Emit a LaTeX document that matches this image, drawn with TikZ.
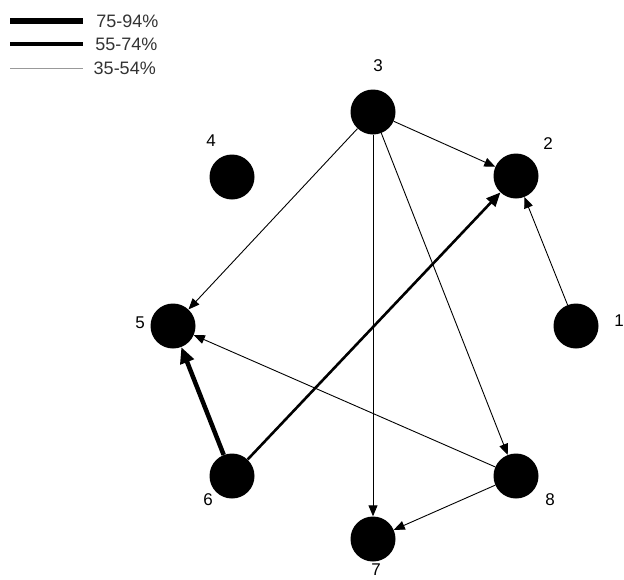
\documentclass[tikz,border=0pt]{standalone}
\usepackage{fontspec}
\setmainfont{Liberation Sans}
\usetikzlibrary{arrows.meta}

\begin{document}
\begin{tikzpicture}[x=1pt, y=-1pt,
    vertex/.style={circle, fill=black, inner sep=0pt, minimum width=44pt, minimum height=45pt},
    tag/.style={font=\fontsize{17}{19}\selectfont},
    weak/.style={line width=0.9pt, -{Triangle[length=11pt, width=9pt]}},
    medium/.style={line width=2.6pt, -{Triangle[length=14pt, width=12pt]}},
    strong/.style={line width=4.5pt, -{Triangle[length=16pt, width=14pt]}}]
          \useasboundingbox (0, 0) rectangle (624, 579);
          % legend
          \coordinate (l1a) at (10, 21); \coordinate (l1b) at (83, 21);
          \coordinate (l2a) at (10, 44); \coordinate (l2b) at (83, 44);
          \coordinate (l3a) at (10, 68); \coordinate (l3b) at (83, 68);
          \draw[line width=6pt] (l1a) -- (l1b) node[right, xshift=7, font=\fontsize{18}{20}\selectfont, text=black!80]{75-94\%};
          \draw[line width=4pt] (l2a) -- (l2b) node[right, xshift=7, font=\fontsize{18}{20}\selectfont, text=black!80]{55-74\%};
          \draw[line width=0.8pt, black!40] (l3a) -- (l3b) node[right, xshift=7, font=\fontsize{18}{20}\selectfont, text=black!80]{35-54\%};
          % vertices
          \node[vertex] (v3) at (373, 112) {};
          \node[vertex] (v2) at (516, 176) {};
          \node[vertex] (v4) at (232, 177) {};
          \node[vertex] (v5) at (173, 326) {};
          \node[vertex] (v1) at (576, 326) {};
          \node[vertex] (v6) at (232, 476) {};
          \node[vertex] (v8) at (516, 476) {};
          \node[vertex] (v7) at (373, 539) {};
          \node[tag] at (378, 66) {3};
          \node[tag] at (548, 144) {2};
          \node[tag] at (211, 141) {4};
          \node[tag] at (140, 323) {5};
          \node[tag] at (619, 321) {1};
          \node[tag] at (208, 500) {6};
          \node[tag] at (550, 500) {8};
          \node[tag] at (376, 570) {7};
          % edges
          \draw[weak] (v3) -- (v2);
          \draw[weak] (v3) -- (v5);
          \draw[weak] (v3) -- (v7);
          \draw[weak] (v3) -- (v8);
          \draw[weak] (v1) -- (v2);
          \draw[weak] (v8) -- (v5);
          \draw[weak] (v8) -- (v7);
          \draw[medium] (v6) -- (v2);
          \draw[strong] (v6) -- (v5);
        \end{tikzpicture}
\end{document}
